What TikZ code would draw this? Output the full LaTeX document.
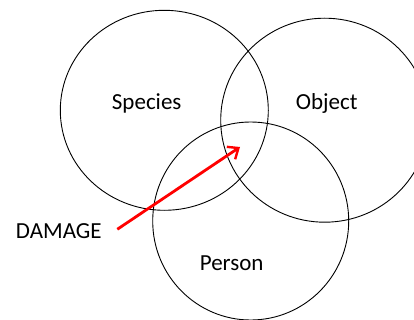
\documentclass[tikz,border=0pt]{standalone}
\usepackage{fontspec}
\setmainfont{Carlito}
\usepackage{xcolor}
\usetikzlibrary{arrows.meta,shapes.geometric}
\definecolor{setc}{HTML}{000000}
\definecolor{dmgc}{HTML}{FF0000}
\tikzset{
  vset/.style={ellipse,draw=setc,line width=0.9pt,inner sep=0pt},
  lbl/.style={anchor=base,inner sep=0pt,font=\fontsize{23}{27}\selectfont},
  ar/.style={-{Straight Barb[length=9pt,width=15pt,line width=2.4pt]},line width=2.8pt,dmgc}
}

\begin{document}
\begin{tikzpicture}[x=1pt,y=-1pt]
\useasboundingbox (0,0) rectangle (414,320);
\node[vset,minimum width=208pt,minimum height=200pt] (species) at (164.3,110.3) {};
\node[vset,minimum width=208pt,minimum height=204pt] (object) at (324.7,120.2) {};
\node[vset,minimum width=196pt,minimum height=198pt] (person) at (250.7,221) {};
\node[lbl] (tspecies) at (146.7,110) {Species};
\node[lbl] (tobject) at (326.7,110) {Object};
\node[lbl] (tperson) at (231.7,270) {Person};
\node[lbl] (damage) at (58.8,238) {DAMAGE};
\coordinate (tail) at (117.3,229.3);
\coordinate (tip) at (240,147);
\draw[ar] (tail) -- (tip);
\end{tikzpicture}
\end{document}
